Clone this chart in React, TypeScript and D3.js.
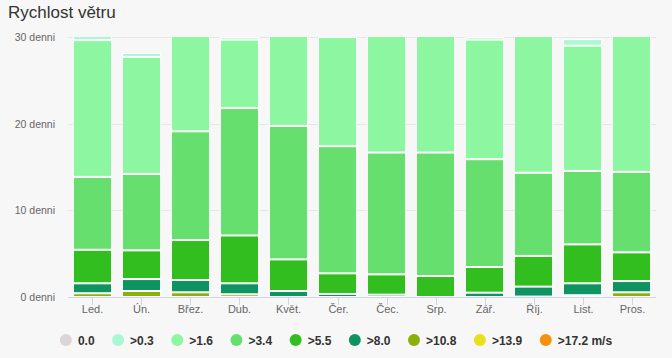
import React, { useEffect, useRef } from 'react';
import * as d3 from 'd3';

// months on the x axis
const months = ['Led.', 'Ún.', 'Břez.', 'Dub.', 'Květ.', 'Čer.', 'Čec.', 'Srp.', 'Zář.', 'Říj.', 'List.', 'Pros.'];

// wind speed classes (first one is drawn on top of the stack)
const classes = ['0.0', '>0.3', '>1.6', '>3.4', '>5.5', '>8.0', '>10.8', '>13.9', '>17.2 m/s'];
const classColors = ['#dbd5d5', '#a8f8d3', '#8cf7a0', '#66df6e', '#33be1f', '#0f9461', '#8ab00a', '#e8e01c', '#f5920c'];

// days per month in each class
const calm = [0, 0, 0, 0, 0, 0, 0, 0, 0, 0, 0, 0];
const above03 = [1.36, 0.45, 0.3, 0.3, 0, 0, 0, 0, 0.3, 0, 0.75, 0];
const above16 = [15.78, 13.5, 11.58, 7.9, 11.26, 12.6, 14.33, 14.33, 13.8, 16.71, 14.45, 16.56];
const above34 = [8.41, 8.82, 12.55, 14.7, 15.4, 14.67, 14.06, 14.25, 12.44, 9.6, 8.48, 9.29];
const above55 = [3.87, 3.31, 4.61, 5.52, 3.65, 2.38, 2.34, 2.42, 2.96, 3.54, 4.49, 3.31];
const above80 = [1.15, 1.38, 1.42, 1.27, 0.69, 0.35, 0.27, 0, 0.5, 1.15, 1.38, 1.3];
const above108 = [0.43, 0.69, 0.54, 0.31, 0, 0, 0, 0, 0, 0.05, 0.2, 0.54];
const above139 = [0, 0, 0, 0, 0, 0, 0, 0, 0, 0, 0, 0];
const above172 = [0, 0, 0, 0, 0, 0, 0, 0, 0, 0, 0, 0];

const seriesValues = [calm, above03, above16, above34, above55, above80, above108, above139, above172];

const yTicks = [0, 10, 20, 30];

const W = 672;
const H = 358;

export default function App() {
  const ref = useRef<SVGSVGElement>(null);

  useEffect(() => {
    const svg = d3.select(ref.current);
    svg.selectAll('*').remove();

    const margin = { top: 37, right: 16, bottom: 61, left: 68 };
    const innerW = W - margin.left - margin.right;
    const innerH = H - margin.top - margin.bottom;

    svg.append('rect').attr('width', W).attr('height', H).attr('fill', '#f7f7f7');

    svg.append('text')
      .attr('x', 8)
      .attr('y', 17.5)
      .attr('font-family', 'Liberation Sans, Arial, sans-serif')
      .attr('font-size', 17)
      .attr('fill', '#333333')
      .text('Rychlost větru');

    // stack: bottom is the last class
    const table = months.map((m, i) => {
      const row: any = { month: m };
      classes.forEach((c, j) => { row[c] = seriesValues[j][i]; });
      return row;
    });
    const stackKeys = [...classes].reverse();
    const stacked = d3.stack().keys(stackKeys)(table);

    const x = d3.scaleBand().domain(months).range([0, innerW]).paddingInner(0.2).paddingOuter(0.1);
    const y = d3.scaleLinear().domain([0, 30]).range([innerH, 0]);

    const g = svg.append('g').attr('transform', `translate(${margin.left},${margin.top})`);

    // grid
    g.append('g')
      .selectAll('line')
      .data(yTicks.filter(t => t > 0))
      .enter()
      .append('line')
      .attr('x1', 0)
      .attr('x2', innerW)
      .attr('y1', d => Math.round(y(d)) + 0.5)
      .attr('y2', d => Math.round(y(d)) + 0.5)
      .attr('stroke', '#e6e6e6');

    // y labels
    g.append('g')
      .selectAll('text')
      .data(yTicks)
      .enter()
      .append('text')
      .attr('x', -13)
      .attr('y', d => y(d) + 4)
      .attr('text-anchor', 'end')
      .attr('font-family', 'Liberation Sans, Arial, sans-serif')
      .attr('font-size', 10.5)
      .attr('fill', '#666666')
      .text(d => `${d} denni`);

    svg.append('defs').append('clipPath').attr('id', 'plotClip')
      .append('rect').attr('x', 0).attr('y', 0).attr('width', innerW).attr('height', innerH);

    const bars = g.append('g').attr('clip-path', 'url(#plotClip)');
    stacked.forEach(layer => {
      const color = classColors[classes.indexOf(layer.key)];
      bars.selectAll(null)
        .data(layer.filter(d => d[1] - d[0] > 0))
        .enter()
        .append('rect')
        .attr('x', d => (x(d.data.month as any) as number) + 0.5)
        .attr('width', x.bandwidth() - 1)
        .attr('y', d => y(d[1]) + 0.5)
        .attr('height', d => Math.max(0, y(d[0]) - y(d[1]) - 1))
        .attr('fill', color)
        .attr('stroke', '#ffffff')
        .attr('stroke-width', 1);
    });

    // x axis
    g.append('line')
      .attr('x1', 0)
      .attr('x2', innerW)
      .attr('y1', innerH + 0.5)
      .attr('y2', innerH + 0.5)
      .attr('stroke', '#ccd6eb');

    const xa = g.append('g');
    months.forEach(m => {
      const cx = Math.round((x(m) as number) + x.bandwidth() / 2) + 0.5;
      xa.append('line')
        .attr('x1', cx).attr('x2', cx)
        .attr('y1', innerH + 1).attr('y2', innerH + 8)
        .attr('stroke', '#ccd6eb');
      xa.append('text')
        .attr('x', cx)
        .attr('y', innerH + 16)
        .attr('text-anchor', 'middle')
        .attr('font-family', 'Liberation Sans, Arial, sans-serif')
        .attr('font-size', 11)
        .attr('fill', '#666666')
        .text(m);
    });

    // legend, centred
    const ctx = document.createElement('canvas').getContext('2d')!;
    ctx.font = 'bold 12px "Liberation Sans", Arial, sans-serif';
    const widths = classes.map(c => ctx.measureText(c).width);
    const itemW = widths.map(w => 12 + w + 23.5);
    const total = d3.sum(itemW) - 23.5 + 6;
    let lx = (W - total) / 2 + 6;
    const legend = svg.append('g').attr('transform', `translate(0, 340)`);
    classes.forEach((c, i) => {
      legend.append('circle')
        .attr('cx', lx)
        .attr('cy', 0)
        .attr('r', 6)
        .attr('fill', classColors[i]);
      legend.append('text')
        .attr('x', lx + 12)
        .attr('y', 4.5)
        .attr('font-family', 'Liberation Sans, Arial, sans-serif')
        .attr('font-size', 12)
        .attr('font-weight', 'bold')
        .attr('fill', '#333333')
        .text(c);
      lx += itemW[i];
    });
  }, []);

  return (
    <div style={{ position: 'absolute', left: 0, top: 0 }}>
      <svg ref={ref} width={W} height={H} style={{ display: 'block' }} />
    </div>
  );
}
